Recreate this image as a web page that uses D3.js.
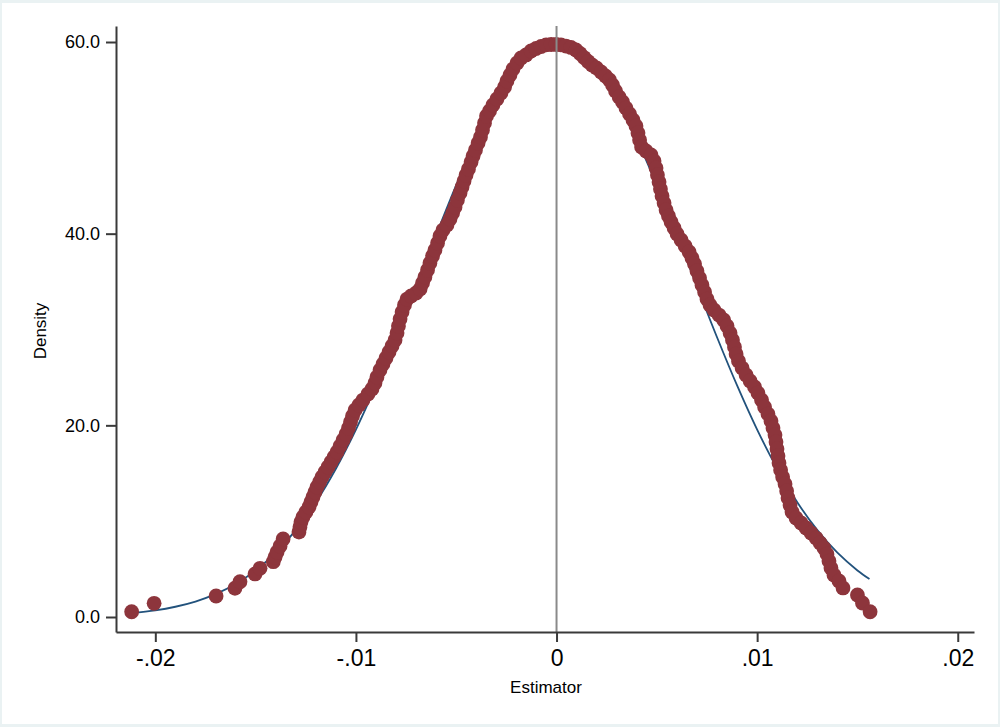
<!DOCTYPE html>
<html>
<head>
<meta charset="utf-8">
<script src="https://cdn.jsdelivr.net/npm/d3@7"></script>
<style>
  html, body { margin: 0; padding: 0; background: #eaf2f3; }
  svg { display: block; }
  text { font-family: "Liberation Sans", Arial, Helvetica, sans-serif; fill: #000; }
</style>
</head>
<body>
<script>
// ---------- data ----------
const estimator = [
  -0.02118, -0.02006, -0.01697, -0.01603, -0.01578, -0.01503, -0.01478, -0.01412, -0.01403, -0.01393,
  -0.01378, -0.01363, -0.01284, -0.01279, -0.01274, -0.01264, -0.01249, -0.01234, -0.01224, -0.01214,
  -0.01204, -0.01194, -0.01181, -0.01169, -0.01154, -0.01139, -0.01124, -0.01109, -0.01094, -0.01079,
  -0.01064, -0.01049, -0.01037, -0.01027, -0.01017, -0.01004, -0.00985, -0.00965, -0.00940, -0.00920,
  -0.00905, -0.00895, -0.00880, -0.00865, -0.00850, -0.00835, -0.00820, -0.00805, -0.00795, -0.00788,
  -0.00780, -0.00770, -0.00758, -0.00745, -0.00725, -0.00700, -0.00680, -0.00668, -0.00656, -0.00643,
  -0.00631, -0.00618, -0.00606, -0.00593, -0.00581, -0.00566, -0.00546, -0.00531, -0.00518, -0.00506,
  -0.00494, -0.00481, -0.00471, -0.00461, -0.00451, -0.00439, -0.00426, -0.00416, -0.00404, -0.00391,
  -0.00379, -0.00369, -0.00359, -0.00349, -0.00334, -0.00317, -0.00297, -0.00277, -0.00259, -0.00247,
  -0.00232, -0.00217, -0.00197, -0.00177, -0.00152, -0.00127, -0.00102, -0.00077, -0.00052, -0.00027,
  -0.00002, 0.00022, 0.00047, 0.00072, 0.00097, 0.00117, 0.00137, 0.00157, 0.00177, 0.00199,
  0.00222, 0.00244, 0.00264, 0.00279, 0.00294, 0.00312, 0.00329, 0.00346, 0.00364, 0.00381,
  0.00396, 0.00406, 0.00414, 0.00424, 0.00446, 0.00471, 0.00486, 0.00496, 0.00503, 0.00511,
  0.00518, 0.00526, 0.00536, 0.00546, 0.00558, 0.00571, 0.00586, 0.00601, 0.00621, 0.00641,
  0.00661, 0.00675, 0.00688, 0.00700, 0.00713, 0.00725, 0.00738, 0.00750, 0.00765, 0.00785,
  0.00810, 0.00833, 0.00850, 0.00865, 0.00877, 0.00887, 0.00895, 0.00907, 0.00925, 0.00945,
  0.00965, 0.00987, 0.01004, 0.01022, 0.01037, 0.01054, 0.01069, 0.01079, 0.01089, 0.01094,
  0.01099, 0.01104, 0.01109, 0.01117, 0.01127, 0.01139, 0.01147, 0.01154, 0.01164, 0.01174,
  0.01194, 0.01219, 0.01244, 0.01269, 0.01294, 0.01314, 0.01333, 0.01348, 0.01358, 0.01368,
  0.01383, 0.01408, 0.01428, 0.01500, 0.01525, 0.01563
];
const density = [
  0.55, 1.43, 2.19, 3.00, 3.68, 4.49, 5.08, 5.77, 6.26, 6.78,
  7.41, 8.14, 8.87, 9.39, 9.91, 10.44, 10.96, 11.48, 12.00, 12.52,
  13.04, 13.57, 14.09, 14.61, 15.13, 15.65, 16.17, 16.70, 17.22, 17.84,
  18.47, 19.10, 19.72, 20.35, 20.97, 21.60, 22.12, 22.64, 23.27, 23.79,
  24.42, 25.04, 25.77, 26.40, 27.03, 27.65, 28.28, 28.91, 29.64, 30.37,
  31.10, 31.83, 32.56, 33.18, 33.50, 33.81, 34.23, 34.85, 35.48, 36.21,
  36.94, 37.67, 38.30, 39.03, 39.76, 40.38, 40.91, 41.53, 42.16, 42.78,
  43.51, 44.25, 44.87, 45.50, 46.12, 46.75, 47.48, 48.11, 48.73, 49.46,
  50.09, 50.82, 51.55, 52.28, 52.80, 53.43, 54.05, 54.68, 55.31, 55.93,
  56.56, 57.18, 57.81, 58.33, 58.65, 59.06, 59.32, 59.53, 59.69, 59.74,
  59.74, 59.69, 59.58, 59.43, 59.17, 58.80, 58.38, 57.97, 57.60, 57.29,
  56.87, 56.45, 56.04, 55.51, 54.89, 54.26, 53.74, 53.11, 52.49, 51.86,
  51.24, 50.51, 49.78, 49.05, 48.63, 48.21, 47.58, 46.85, 46.12, 45.39,
  44.66, 43.93, 43.20, 42.47, 41.84, 41.22, 40.59, 39.97, 39.34, 38.71,
  38.09, 37.46, 36.84, 36.11, 35.38, 34.64, 33.91, 33.18, 32.56, 32.04,
  31.51, 30.99, 30.37, 29.64, 28.91, 28.17, 27.44, 26.71, 25.98, 25.25,
  24.63, 24.00, 23.37, 22.64, 21.91, 21.18, 20.45, 19.72, 18.99, 18.26,
  17.53, 16.80, 16.07, 15.34, 14.61, 13.88, 13.15, 12.42, 11.69, 10.96,
  10.33, 9.81, 9.29, 8.77, 8.24, 7.72, 7.20, 6.57, 5.84, 5.11,
  4.38, 3.76, 3.03, 2.30, 1.46, 0.55
];
// normal density overlay
const normalX = [
  -0.0212, -0.020, -0.019, -0.018, -0.017, -0.016, -0.015, -0.014, -0.013, -0.012,
  -0.011, -0.010, -0.009, -0.008, -0.007, -0.006, -0.005, -0.004, -0.003, -0.002,
  -0.001, 0.000, 0.001, 0.002, 0.003, 0.004, 0.005, 0.006, 0.007, 0.008,
  0.009, 0.010, 0.011, 0.012, 0.013, 0.014, 0.015, 0.0156
];
const normalY = [
  0.40, 0.69, 1.07, 1.61, 2.38, 3.44, 4.86, 6.71, 9.07, 11.97,
  15.47, 19.55, 24.16, 29.19, 34.50, 39.87, 45.07, 49.82, 53.86, 56.94,
  58.88, 59.54, 58.88, 56.94, 53.86, 49.82, 45.07, 39.87, 34.50, 29.19,
  24.16, 19.55, 15.47, 11.97, 9.07, 6.71, 4.86, 3.96
];
const xTickValues = [-0.02, -0.01, 0, 0.01, 0.02];
const xTickLabels = ["-.02", "-.01", "0", ".01", ".02"];
const yTickValues = [0, 20, 40, 60];
const yTickLabels = ["0.0", "20.0", "40.0", "60.0"];
const xTitle = "Estimator";
const yTitle = "Density";
const refLineX = 0;

// ---------- layout ----------
const W = 1000, H = 727;
const plot = { left: 116, right: 974, top: 26, bottom: 632 };

const svg = d3.select("body").append("svg").attr("width", W).attr("height", H);
svg.append("rect").attr("x", 0).attr("y", 0).attr("width", W).attr("height", H).attr("fill", "#eaf2f3");
svg.append("rect").attr("x", 2).attr("y", 3).attr("width", 996).attr("height", 721).attr("fill", "#ffffff");

const x = d3.scaleLinear().domain([-0.02196, 0.02081]).range([plot.left, plot.right]);
const y = d3.scaleLinear().domain([-1.565, 61.67]).range([plot.bottom, plot.top]);

// normal curve
const line = d3.line().x((d, i) => x(normalX[i])).y((d, i) => y(normalY[i])).curve(d3.curveCatmullRom.alpha(0.5));
svg.append("path").datum(normalX).attr("d", line)
  .attr("fill", "none").attr("stroke", "#22527c").attr("stroke-width", 1.8);

// density dots
svg.append("g").selectAll("circle").data(estimator).join("circle")
  .attr("cx", (d) => x(d))
  .attr("cy", (d, i) => y(density[i]))
  .attr("r", 7.4)
  .attr("fill", "#8d353c");

// reference line at 0
svg.append("line")
  .attr("x1", x(refLineX)).attr("x2", x(refLineX))
  .attr("y1", plot.top).attr("y2", plot.bottom)
  .attr("stroke", "#8a8a8a").attr("stroke-width", 2);

// axes
const axisColor = "#3a3a3a";
const xAxis = d3.axisBottom(x).tickValues(xTickValues)
  .tickFormat((d, i) => xTickLabels[i]).tickSizeOuter(0).tickSizeInner(10).tickPadding(8);
const gx = svg.append("g").attr("transform", `translate(0,${plot.bottom})`).call(xAxis);
gx.select(".domain").attr("stroke", axisColor).attr("stroke-width", 2);
gx.selectAll(".tick line").attr("stroke", axisColor).attr("stroke-width", 2);
gx.selectAll(".tick text").attr("font-size", 23)
  .attr("font-family", "'Liberation Sans', Arial, sans-serif").attr("fill", "#000");

const yAxis = d3.axisLeft(y).tickValues(yTickValues)
  .tickFormat((d, i) => yTickLabels[i]).tickSizeOuter(0).tickSizeInner(10).tickPadding(6);
const gy = svg.append("g").attr("transform", `translate(${plot.left},0)`).call(yAxis);
gy.select(".domain").attr("stroke", axisColor).attr("stroke-width", 2);
gy.selectAll(".tick line").attr("stroke", axisColor).attr("stroke-width", 2);
gy.selectAll(".tick text").attr("font-size", 18)
  .attr("font-family", "'Liberation Sans', Arial, sans-serif").attr("fill", "#000");

// titles
svg.append("text").attr("x", 546).attr("y", 693).attr("text-anchor", "middle")
  .attr("font-size", 17).text(xTitle);
svg.append("text").attr("transform", "translate(46,331) rotate(-90)").attr("text-anchor", "middle")
  .attr("font-size", 17).text(yTitle);
</script>
</body>
</html>
